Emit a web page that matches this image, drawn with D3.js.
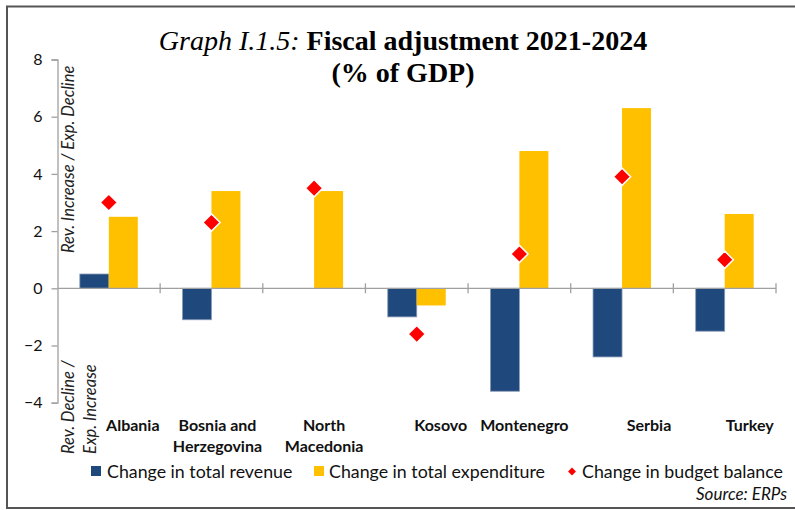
<!DOCTYPE html>
<html>
<head>
<meta charset="utf-8">
<script src="https://cdn.jsdelivr.net/npm/d3@7"></script>
<style>
  body { margin: 0; background: #fff; }
  svg { display: block; }
</style>
</head>
<body>
<div id="chart"></div>
<script>
// data
const countries = ["Albania", "Bosnia and Herzegovina", "North Macedonia", "Kosovo", "Montenegro", "Serbia", "Turkey"];
const countryLines = [["Albania"], ["Bosnia and", "Herzegovina"], ["North", "Macedonia"], ["Kosovo"], ["Montenegro"], ["Serbia"], ["Turkey"]];
const revenue = [0.5, -1.1, 0, -1.0, -3.6, -2.4, -1.5];
const expenditure = [2.5, 3.4, 3.4, -0.6, 4.8, 6.3, 2.6];
const balance = [3.0, 2.3, 3.5, -1.6, 1.2, 3.9, 1.0];
const yTicks = [-4, -2, 0, 2, 4, 6, 8];
const seriesNames = ["Change in total revenue", "Change in total expenditure", "Change in budget balance"];

// label nudges (the category labels in the original sit off-centre)
const labelDx = [24, 6, 10, 24, 5, 27, 25];

const W = 795, H = 510;
const colors = {rev: "#1F497D", exp: "#FFC000", bal: "#FF0000"};
const font = "Lato, 'Open Sans', sans-serif";

const svg = d3.select("#chart").append("svg")
	.attr("width", W)
	.attr("height", H);

// frame
svg.append("rect")
	.attr("x", 7).attr("y", 6.5)
	.attr("width", 800).attr("height", 501.5)
	.attr("fill", "none")
	.attr("stroke", "#555")
	.attr("stroke-width", 2);

// title
const title = svg.append("text")
	.attr("x", 403).attr("y", 50)
	.attr("text-anchor", "middle")
	.style("font-family", "'Liberation Serif', 'Times New Roman', serif")
	.style("font-size", "28px");
title.append("tspan").style("font-style", "italic").text("Graph I.1.5: ");
title.append("tspan").style("font-weight", "bold").text("Fiscal adjustment 2021-2024");
svg.append("text")
	.attr("x", 403).attr("y", 82)
	.attr("text-anchor", "middle")
	.style("font-family", "'Liberation Serif', 'Times New Roman', serif")
	.style("font-size", "28px")
	.style("font-weight", "bold")
	.text("(% of GDP)");

const y = d3.scaleLinear().domain([-4, 8]).range([402.7, 59.5]);
const x0 = d3.scaleBand().domain(countries).range([57.5, 776]).padding(0);
const x1 = d3.scaleBand().domain(["rev", "exp"]).range([0, x0.bandwidth()])
	.paddingInner(0).paddingOuter(0.77);

// y axis
const yAxis = d3.axisLeft(y).tickValues(yTicks).tickSize(6).tickPadding(9);
const gy = svg.append("g")
	.attr("transform", "translate(57.5,0)")
	.call(yAxis);
gy.select(".domain").attr("stroke", "#a0a0a0").attr("stroke-width", 1.3);
gy.selectAll(".tick line").attr("stroke", "#a0a0a0").attr("stroke-width", 1.3);
gy.selectAll(".tick text")
	.style("font-family", font)
	.style("font-size", "16px")
	.attr("fill", "#111");

// bars
const rows = countries.map((c, i) => ({c, rev: revenue[i], exp: expenditure[i], bal: balance[i]}));

const groups = svg.selectAll("g.grp")
	.data(rows)
	.enter().append("g")
	.attr("class", "grp")
	.attr("transform", d => "translate(" + x0(d.c) + ",0)");

groups.selectAll("rect")
	.data(d => ["rev", "exp"].map(k => ({k, v: d[k]})).filter(e => e.v !== 0))
	.enter().append("rect")
	.attr("x", e => x1(e.k))
	.attr("y", e => y(Math.max(0, e.v)))
	.attr("width", x1.bandwidth())
	.attr("height", e => Math.abs(y(e.v) - y(0)))
	.attr("fill", e => colors[e.k])
	.attr("stroke", e => e.k === "rev" ? "#8a9cb6" : "none")
	.attr("stroke-width", 0.8);

// category axis at zero
const gx = svg.append("g").attr("transform", "translate(0," + y(0) + ")");
gx.append("line")
	.attr("x1", 57.5).attr("x2", 776)
	.attr("stroke", "#a0a0a0").attr("stroke-width", 1.3);
const bounds = countries.map(c => x0(c)).concat([x0(countries[countries.length - 1]) + x0.bandwidth()]).slice(1);
gx.selectAll("line.tk")
	.data(bounds)
	.enter().append("line")
	.attr("class", "tk")
	.attr("x1", d => d).attr("x2", d => d)
	.attr("y1", -5).attr("y2", 5)
	.attr("stroke", "#a0a0a0").attr("stroke-width", 1.3);

// diamonds
const diamond = d3.symbol().type(d3.symbolDiamond2).size(190);
svg.selectAll("path.bal")
	.data(rows)
	.enter().append("path")
	.attr("class", "bal")
	.attr("d", diamond)
	.attr("transform", d => "translate(" + (x0(d.c) + x0.bandwidth() / 2) + "," + y(d.bal) + ")")
	.attr("fill", colors.bal)
	.attr("stroke", "#fff")
	.attr("stroke-width", 1.5);

// category labels
svg.selectAll("text.cat")
	.data(countryLines)
	.enter().append("text")
	.attr("class", "cat")
	.attr("text-anchor", "middle")
	.attr("x", (d, i) => x0(countries[i]) + x0.bandwidth() / 2 + labelDx[i])
	.attr("y", 431)
	.style("font-family", font)
	.style("font-size", "16px")
	.style("font-weight", "bold")
	.attr("fill", "#111")
	.selectAll("tspan")
	.data(d => d)
	.enter().append("tspan")
	.attr("x", function() { return d3.select(this.parentNode).attr("x"); })
	.attr("dy", (d, i) => i === 0 ? 0 : 20.5)
	.text(d => d);

// rotated axis notes
const note = (txt, xx, yy, anchor) => svg.append("text")
	.attr("transform", "translate(" + xx + "," + yy + ") rotate(-90)")
	.attr("text-anchor", anchor)
	.style("font-family", font)
	.style("font-size", "16.5px")
	.style("font-style", "italic")
	.attr("fill", "#222")
	.text(txt);
note("Rev. Increase / Exp. Decline", 74, 253, "start");
note("Rev. Decline /", 74, 454, "start");
note("Exp. Increase", 96, 454, "start");

// legend
const leg = svg.append("g").style("font-family", font).style("font-size", "17.8px").attr("fill", "#111");
leg.append("rect").attr("x", 91).attr("y", 466).attr("width", 10).attr("height", 10).attr("fill", colors.rev);
leg.append("text").attr("x", 107).attr("y", 477.5).text(seriesNames[0]);
leg.append("rect").attr("x", 314).attr("y", 466).attr("width", 10).attr("height", 10).attr("fill", colors.exp);
leg.append("text").attr("x", 329).attr("y", 477.5).text(seriesNames[1]);
leg.append("path").attr("d", d3.symbol().type(d3.symbolDiamond2).size(40))
	.attr("transform", "translate(572,471.5)").attr("fill", colors.bal);
leg.append("text").attr("x", 582).attr("y", 477.5).text(seriesNames[2]);

svg.append("text")
	.attr("x", 787).attr("y", 500)
	.attr("text-anchor", "end")
	.style("font-family", font)
	.style("font-size", "17px")
	.style("font-style", "italic")
	.attr("fill", "#111")
	.text("Source: ERPs");
</script>
</body>
</html>
